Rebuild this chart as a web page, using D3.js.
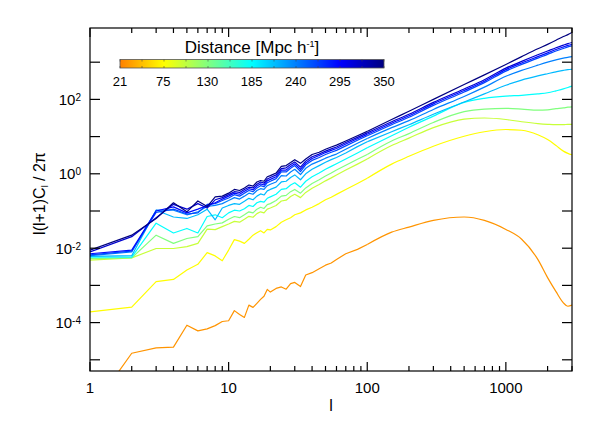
<!DOCTYPE html>
<html>
<head>
<meta charset="utf-8">
<script src="https://cdn.jsdelivr.net/npm/d3@7"></script>
<style>
  body { margin: 0; background: #fff; }
  svg { display: block; }
  text { font-family: "Liberation Sans", Arial, Helvetica, sans-serif; fill: #000; }
</style>
</head>
<body>
<svg id="chart"></svg>
<script>
var width = 599,
    height = 428;

// multipoles l shared by every curve
var multipoles = [1,2,3,4,5,6,7,8,9,10,11,12,13,14,15,16,17,18,19,20,22,24,26,28,30,33,36,40,45,50,55,60,70,85,100,150,200,300,500,700,1000,1300,1700,2000,2300,2600,2800,3000];

// l(l+1)C_l / 2pi for each shell distance
var spec30 = [4.0e-7,1.5e-5,2.1e-5,2.2e-5,8.5e-5,6.0e-5,6.8e-5,8.3e-5,1.07e-4,1.12e-4,2.1e-4,1.66e-4,1.38e-4,2.95e-4,2.57e-4,3.3e-4,4.2e-4,5.1e-4,7.8e-4,6.6e-4,8.3e-4,9.1e-4,7.9e-4,1.12e-3,1.2e-3,9.3e-4,1.9e-3,2.2e-3,2.8e-3,3.5e-3,4.0e-3,5.0e-3,7.1e-3,9.3e-3,1.26e-2,2.7e-2,3.7e-2,5.6e-2,6.9e-2,5.6e-2,3.2e-2,1.74e-2,5.0e-3,1.62e-3,6.8e-4,3.4e-4,2.75e-4,2.95e-4];
var spec75 = [1.95e-4,2.6e-4,1.26e-3,1.45e-3,2.6e-3,3.7e-3,7.6e-3,6.2e-3,4.6e-3,8.9e-3,1.7e-2,1.55e-2,1.35e-2,1.74e-2,2.24e-2,2.6e-2,2.95e-2,2.57e-2,3.2e-2,3.1e-2,3.8e-2,5.0e-2,5.8e-2,6.6e-2,7.9e-2,8.9e-2,0.107,0.126,0.158,0.20,0.234,0.28,0.38,0.55,0.76,1.82,2.95,5.5,10.2,13.5,15.5,14.8,11.2,8.3,5.75,4.07,3.55,3.24];
var spec100 = [4.8e-3,5.5e-3,9.8e-3,9.8e-3,1.10e-2,1.35e-2,3.24e-2,3.16e-2,3.8e-2,4.47e-2,5.25e-2,5.0e-2,6.0e-2,7.2e-2,6.8e-2,8.5e-2,9.5e-2,8.9e-2,0.112,0.120,0.141,0.186,0.195,0.245,0.282,0.229,0.316,0.407,0.513,0.646,0.776,0.933,1.26,1.82,2.51,5.75,9.12,17.4,29.5,31.6,28.8,25.1,22.4,21.4,20.9,20.9,21.4,21.4];
var spec130 = [5.25e-3,5.5e-3,2.24e-2,1.35e-2,1.82e-2,2.04e-2,3.98e-2,4.47e-2,4.79e-2,6.0e-2,7.1e-2,6.6e-2,7.9e-2,9.5e-2,8.9e-2,0.112,0.126,0.117,0.148,0.158,0.191,0.251,0.263,0.331,0.38,0.302,0.417,0.55,0.692,0.871,1.05,1.26,1.70,2.45,3.31,7.59,12.0,24.0,46.8,55.0,57.5,55.0,51.3,52.5,56.2,58.9,61.7,63.1];
var spec185 = [5.75e-3,5.75e-3,4.7e-2,2.57e-2,3.39e-2,2.57e-2,7.1e-2,7.9e-2,6.6e-2,8.9e-2,0.105,0.100,0.115,0.141,0.132,0.166,0.182,0.174,0.219,0.24,0.282,0.38,0.398,0.501,0.575,0.437,0.631,0.832,1.05,1.32,1.58,1.86,2.51,3.63,5.01,10.5,17.8,35.5,83.2,107,123,129,141,151,170,191,209,229];
var spec215 = [6.0e-3,6.3e-3,0.105,6.9e-2,6.3e-2,7.9e-2,0.112,5.8e-2,0.120,0.141,0.158,0.151,0.182,0.219,0.200,0.251,0.288,0.269,0.347,0.38,0.437,0.603,0.631,0.794,0.933,0.692,1.0,1.32,1.66,2.04,2.4,2.75,3.63,5.37,7.24,13.5,20.9,39.8,85.1,141,240,331,427,490,550,603,631,646];
var spec240 = [6.3e-3,7.9e-3,0.105,0.105,7.9e-2,9.5e-2,0.132,0.141,0.158,0.191,0.229,0.209,0.251,0.302,0.282,0.355,0.398,0.38,0.479,0.525,0.603,0.891,0.871,1.12,1.32,0.955,1.41,1.82,2.19,2.63,3.02,3.39,4.57,6.61,8.91,17.4,26.9,53.7,120,214,417,603,832,1000,1150,1290,1350,1410];
var spec265 = [6.6e-3,8.3e-3,9.1e-2,0.112,8.3e-2,8.9e-2,0.151,0.158,0.191,0.224,0.275,0.251,0.302,0.355,0.331,0.417,0.479,0.447,0.575,0.631,0.741,1.12,1.12,1.41,1.66,1.15,1.74,2.29,2.75,3.31,3.8,4.27,5.62,7.94,10.5,20.9,33.1,69.2,158,282,575,871,1290,1620,2000,2340,2570,2750];
var spec290 = [7.1e-3,8.9e-3,0.100,0.129,8.9e-2,0.112,0.141,0.166,0.209,0.251,0.302,0.282,0.339,0.398,0.372,0.468,0.537,0.501,0.646,0.708,0.832,1.26,1.26,1.58,1.86,1.32,1.95,2.57,3.09,3.72,4.27,4.79,6.31,8.71,11.5,22.9,36.3,75.9,174,309,631,955,1410,1780,2190,2570,2820,3020];
var spec315 = [7.9e-3,2.04e-2,6.6e-2,0.151,0.112,0.158,0.120,0.200,0.229,0.275,0.331,0.316,0.38,0.437,0.417,0.525,0.603,0.562,0.724,0.794,0.933,1.38,1.45,1.78,2.09,1.51,2.19,2.88,3.39,4.07,4.68,5.25,6.92,9.55,12.6,25.1,39.8,83.2,191,339,692,1050,1580,2000,2450,2880,3160,3390];
var spec350 = [8.9e-3,2.24e-2,6.3e-2,0.166,9.5e-2,0.186,0.132,0.24,0.251,0.302,0.38,0.355,0.417,0.50,0.468,0.603,0.661,0.631,0.832,0.891,1.05,1.58,1.66,2.0,2.4,1.91,2.51,3.31,3.8,4.57,5.25,5.89,7.59,10.5,13.8,28.8,47.9,100,251,457,871,1410,2290,3020,3890,4900,5500,6310];

var distances = [30, 75, 100, 130, 185, 215, 240, 265, 290, 315, 350];
var spectra = [spec30, spec75, spec100, spec130, spec185, spec215, spec240, spec265, spec290, spec315, spec350];

var cbarLabels = [21, 75, 130, 185, 240, 295, 350];
var xLabels = [1, 10, 100, 1000];
var yLabelExps = [-4, -2, 0, 2];
var yTickExps = [-5, -4, -3, -2, -1, 0, 1, 2, 3];

var plot = {left: 90, right: 572, top: 28, bottom: 371};

var x = d3.scaleLog().domain([1, 3000]).range([plot.left, plot.right]);
var y = d3.scaleLog().domain([5e-6, 8.3e3]).range([plot.bottom, plot.top]);

// jet colormap, distances 21..350 run from orange down to navy
function clamp(v) { return Math.max(0, Math.min(1, v)); }
function jet(t) {
  return d3.rgb(
    255 * clamp(1.5 - Math.abs(4 * t - 3)),
    255 * clamp(1.5 - Math.abs(4 * t - 2)),
    255 * clamp(1.5 - Math.abs(4 * t - 1))
  ).formatHex();
}
var tOfDist = d3.scaleLinear().domain([21, 350]).range([0.75, 0]);
var color = function(d) { return jet(tOfDist(d)); };

var svg = d3.select("#chart").attr("width", width).attr("height", height);

svg.append("defs").append("clipPath").attr("id", "plotclip")
  .append("rect")
  .attr("x", plot.left).attr("y", plot.top)
  .attr("width", plot.right - plot.left).attr("height", plot.bottom - plot.top);

// curves: noisy low-l part drawn straight, smooth high-l part with a monotone curve
var lineRaw = d3.line()
  .x(function(d) { return x(d[0]); })
  .y(function(d) { return y(d[1]); });
var lineSmooth = d3.line()
  .x(function(d) { return x(d[0]); })
  .y(function(d) { return y(d[1]); })
  .curve(d3.curveMonotoneX);

var curves = svg.append("g").attr("clip-path", "url(#plotclip)");
spectra.forEach(function(s, i) {
  var pts = s.map(function(v, j) { return [multipoles[j], v]; });
  var lo = pts.filter(function(p) { return p[0] <= 100; });
  var hi = pts.filter(function(p) { return p[0] >= 100; });
  [lineRaw(lo), lineSmooth(hi)].forEach(function(d) {
    curves.append("path")
      .attr("d", d)
      .attr("fill", "none")
      .attr("stroke", color(distances[i]))
      .attr("stroke-width", 1.2)
      .attr("stroke-linejoin", "round");
  });
});

// frame
svg.append("rect")
  .attr("x", plot.left).attr("y", plot.top)
  .attr("width", plot.right - plot.left).attr("height", plot.bottom - plot.top)
  .attr("fill", "none").attr("stroke", "#000").attr("stroke-width", 1.2);

// x ticks (bottom + top), inward
var xTickVals = [];
[1, 10, 100, 1000].forEach(function(dec) {
  for (var k = 1; k <= 9; k++) if (dec * k <= 3000) xTickVals.push(dec * k);
});
function isMajor(v) { return Math.abs(Math.log10(v) - Math.round(Math.log10(v))) < 1e-9; }

var xt = svg.append("g").attr("stroke", "#000").attr("stroke-width", 1.2);
xTickVals.forEach(function(v) {
  var len = isMajor(v) ? 9 : 5;
  xt.append("line").attr("x1", x(v)).attr("x2", x(v)).attr("y1", plot.bottom).attr("y2", plot.bottom - len);
  xt.append("line").attr("x1", x(v)).attr("x2", x(v)).attr("y1", plot.top).attr("y2", plot.top + len);
});

// y ticks (left + right), inward, one per decade
yTickExps.forEach(function(e) {
  var yy = y(Math.pow(10, e));
  xt.append("line").attr("x1", plot.left).attr("x2", plot.left + 10).attr("y1", yy).attr("y2", yy);
  xt.append("line").attr("x1", plot.right).attr("x2", plot.right - 10).attr("y1", yy).attr("y2", yy);
});

// x tick labels
svg.append("g").selectAll("text")
  .data(xLabels)
  .enter()
  .append("text")
  .attr("x", function(d) { return x(d); })
  .attr("y", plot.bottom + 22)
  .attr("text-anchor", "middle")
  .style("font-size", "15px")
  .text(function(d) { return d; });

// y tick labels 10^n
var yl = svg.append("g").selectAll("text")
  .data(yLabelExps)
  .enter()
  .append("text")
  .attr("x", 81)
  .attr("y", function(e) { return y(Math.pow(10, e)) + 5.5; })
  .attr("text-anchor", "end")
  .style("font-size", "15px");
yl.append("tspan").text("10");
yl.append("tspan").attr("dy", -4).style("font-size", "10px")
  .text(function(e) { return e < 0 ? "-" + (-e) : e; });

// axis titles
svg.append("text")
  .attr("x", (plot.left + plot.right) / 2)
  .attr("y", 411)
  .attr("text-anchor", "middle")
  .style("font-size", "16px")
  .text("l");

var yt = svg.append("text")
  .attr("transform", "translate(45," + ((plot.top + plot.bottom) / 2 - 6) + ") rotate(-90)")
  .attr("text-anchor", "middle")
  .style("font-size", "16px");
yt.append("tspan").text("l(l+1)C");
yt.append("tspan").attr("dy", 3).style("font-size", "9px").text("l");
yt.append("tspan").attr("dy", -3).text(" / 2\u03c0");

// colour bar
var cb = {x0: 120, x1: 384, y0: 59.5, y1: 68};
var cbScale = d3.scaleLinear().domain([21, 350]).range([cb.x0, cb.x1]);

var grad = svg.select("defs").append("linearGradient")
  .attr("id", "cbgrad").attr("x1", "0%").attr("x2", "100%").attr("y1", "0%").attr("y2", "0%");
d3.range(0, 25).forEach(function(i) {
  var d = 21 + (350 - 21) * i / 24;
  grad.append("stop").attr("offset", (100 * i / 24) + "%").attr("stop-color", color(d));
});

svg.append("rect")
  .attr("x", cb.x0).attr("y", cb.y0)
  .attr("width", cb.x1 - cb.x0).attr("height", cb.y1 - cb.y0)
  .attr("fill", "url(#cbgrad)")
  .attr("stroke", "#555").attr("stroke-width", 0.8);

var cbt = svg.append("g").attr("stroke", "#444").attr("stroke-width", 0.8).attr("opacity", 0.7);
d3.range(0, 13).forEach(function(i) {
  var xx = cb.x0 + (cb.x1 - cb.x0) * i / 12;
  cbt.append("line").attr("x1", xx).attr("x2", xx).attr("y1", cb.y0).attr("y2", cb.y0 + 2);
  cbt.append("line").attr("x1", xx).attr("x2", xx).attr("y1", cb.y1).attr("y2", cb.y1 - 2);
});

svg.append("g").selectAll("text")
  .data(cbarLabels)
  .enter()
  .append("text")
  .attr("x", function(d) { return cbScale(d); })
  .attr("y", 86)
  .attr("text-anchor", "middle")
  .style("font-size", "13px")
  .text(function(d) { return d; });

var ttl = svg.append("text")
  .attr("x", (cb.x0 + cb.x1) / 2)
  .attr("y", 53)
  .attr("text-anchor", "middle")
  .style("font-size", "17px");
ttl.append("tspan").text("Distance [Mpc h");
ttl.append("tspan").attr("dy", -6).style("font-size", "9px").text("-1");
ttl.append("tspan").attr("dy", 6).text("]");
</script>
</body>
</html>
